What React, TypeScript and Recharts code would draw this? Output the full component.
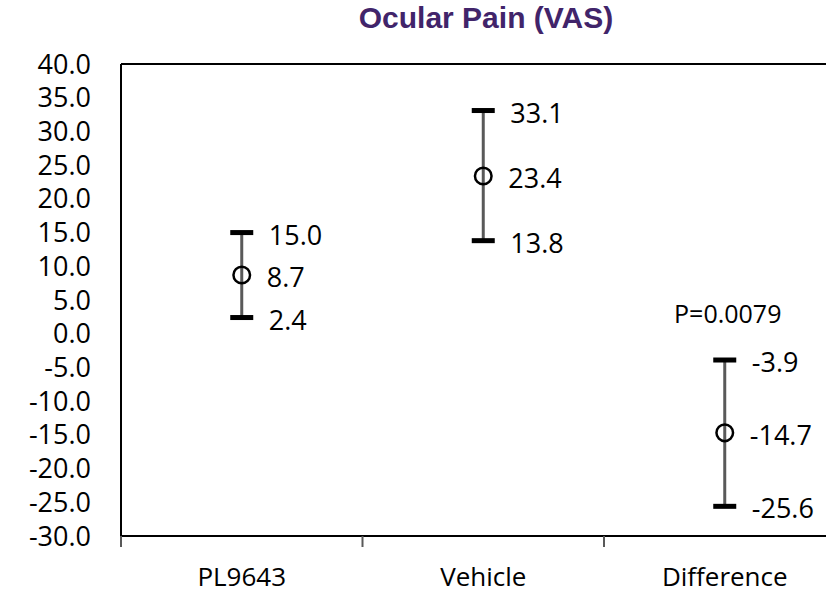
import React from 'react';
import { ScatterChart, Scatter, XAxis, YAxis, ErrorBar, ReferenceLine, ReferenceDot } from 'recharts';

const TITLE = 'Ocular Pain (VAS)';
const CATEGORIES = ['PL9643', 'Vehicle', 'Difference'];
const MEANS = [8.7, 23.4, -14.7];
const LOWER = [2.4, 13.8, -25.6];
const UPPER = [15.0, 33.1, -3.9];
const Y_TICKS = [-30, -25, -20, -15, -10, -5, 0, 5, 10, 15, 20, 25, 30, 35, 40];
const X_TICKS = [0, 0.5, 1, 1.5, 2, 2.5, 3];
const P_VALUE = 'P=0.0079';
const P_INDEX = 2;

const FONT = '"Open Sans", "Noto Sans", sans-serif';
const TITLE_FONT = '"Liberation Sans", Arial, sans-serif';

const meanPoints = CATEGORIES.map((c, i) => ({
  x: i + 0.5,
  y: MEANS[i],
  err: [MEANS[i] - LOWER[i], UPPER[i] - MEANS[i]],
}));
const upperPoints = CATEGORIES.map((c, i) => ({ x: i + 0.5, y: UPPER[i] }));
const lowerPoints = CATEGORIES.map((c, i) => ({ x: i + 0.5, y: LOWER[i] }));

const XTick = (props: any) => {
  const { x, y, payload } = props;
  const v = payload.value;
  if (Number.isInteger(v)) {
    return <line x1={x} x2={x} y1={y} y2={y + 11} stroke="#595959" strokeWidth={2} />;
  }
  return (
    <text x={x} y={y + 50} textAnchor="middle" fontSize={26} fontFamily={FONT} fill="#000">
      {CATEGORIES[Math.floor(v)]}
    </text>
  );
};

const CapShape = (props: any) => {
  const { cx, cy, payload } = props;
  return (
    <g>
      <rect x={cx - 11.5} y={cy - 2.5} width={23} height={5} fill="#000" />
      <text x={cx + 27} y={cy + 12} fontSize={27} fontFamily={FONT} fill="#000">
        {payload.y.toFixed(1)}
      </text>
    </g>
  );
};

const MeanShape = (props: any) => {
  const { cx, cy, payload } = props;
  return (
    <g>
      <circle cx={cx} cy={cy} r={8.3} fill="none" stroke="#000" strokeWidth={2.5} />
      <text x={cx + 25} y={cy + 12} fontSize={27} fontFamily={FONT} fill="#000">
        {payload.y.toFixed(1)}
      </text>
    </g>
  );
};

const PShape = (props: any) => {
  const { cx, cy } = props;
  return (
    <text x={cx + 3} y={cy - 37} textAnchor="middle" fontSize={25} fontFamily={FONT} fill="#000">
      {P_VALUE}
    </text>
  );
};

export default function App() {
  return (
    <div style={{ position: 'fixed', left: 0, top: 0, width: 826, height: 593, overflow: 'hidden', background: '#fff' }}>
      <div
        style={{
          position: 'absolute',
          left: 186,
          width: 600,
          top: 1,
          textAlign: 'center',
          fontFamily: TITLE_FONT,
          fontWeight: 700,
          fontSize: 30,
          lineHeight: 'normal',
          color: '#41246a',
        }}
      >
        {TITLE}
      </div>
      <ScatterChart width={860} height={593} margin={{ top: 64, right: 14.5, bottom: 0, left: 0 }}>
        <XAxis
          type="number"
          dataKey="x"
          domain={[0, 3]}
          ticks={X_TICKS}
          interval={0}
          tick={<XTick />}
          tickLine={false}
          tickSize={0}
          tickMargin={0}
          height={57}
          axisLine={{ stroke: '#000', strokeWidth: 2 }}
        />
        <YAxis
          type="number"
          dataKey="y"
          domain={[-30, 40]}
          ticks={Y_TICKS}
          interval={0}
          width={121}
          tickLine={false}
          tickSize={0}
          tickMargin={30}
          tickFormatter={(v: number) => v.toFixed(1)}
          tick={{ fontSize: 27, fontFamily: FONT, fill: '#000' }}
          axisLine={{ stroke: '#000', strokeWidth: 2 }}
        />
        <ReferenceLine y={40} stroke="#000" strokeWidth={2} />
        <Scatter data={meanPoints} dataKey="y" shape={<MeanShape />} isAnimationActive={false}>
          <ErrorBar dataKey="err" direction="y" width={0} stroke="#595959" strokeWidth={3} />
        </Scatter>
        <Scatter data={upperPoints} dataKey="y" shape={<CapShape />} isAnimationActive={false} />
        <Scatter data={lowerPoints} dataKey="y" shape={<CapShape />} isAnimationActive={false} />
        <ReferenceDot x={P_INDEX + 0.5} y={UPPER[P_INDEX]} r={0} shape={<PShape />} />
      </ScatterChart>
    </div>
  );
}
